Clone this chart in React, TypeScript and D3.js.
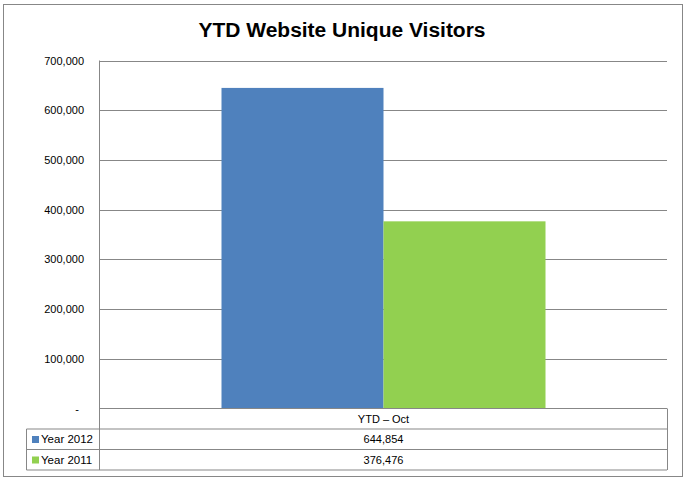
import React from "react";
import * as d3 from "d3";

const categories = ["YTD \u2013 Oct"];
const seriesNames = ["Year 2012", "Year 2011"];
const seriesValues = [644854, 376476];
const seriesColors = ["#4F81BD", "#92D050"];
const yTicks = [0, 100000, 200000, 300000, 400000, 500000, 600000, 700000];
const title = "YTD Website Unique Visitors";

const W = 686;
const H = 481;
const plot = { left: 100, right: 667, top: 60.5, bottom: 408.5 };
const rowH = 20.5;
const tableLeft = 26.5;
const font = "'Liberation Sans', Arial, sans-serif";
const gridColor = "#878787";

export default function App() {
  const y = d3.scaleLinear().domain([0, 700000]).range([plot.bottom, plot.top]);
  const xCat = d3
    .scaleBand<string>()
    .domain(categories)
    .range([plot.left, plot.right])
    .paddingInner(0)
    .paddingOuter(0);
  const bw = xCat.bandwidth();
  // Excel gap width 150%: group width = bw / (n + 1.5)
  const barW = bw / (seriesNames.length + 1.5);
  const groupStart = (xCat(categories[0]) as number) + (bw - barW * seriesNames.length) / 2;
  const xSeries = d3
    .scaleBand<string>()
    .domain(seriesNames)
    .range([groupStart, groupStart + barW * seriesNames.length]);
  const fmt = d3.format(",");
  const catCenter = (xCat(categories[0]) as number) + bw / 2;

  return (
    <svg
      width={W}
      height={H}
      style={{ position: "absolute", left: 0, top: 0, background: "#fff" }}
    >
      <rect x={0} y={0} width={W} height={H} fill="#fff" />
      <rect x={3.5} y={4.5} width={679} height={472} fill="#fff" stroke={gridColor} strokeWidth={1} />
      <text
        x={W / 2 - 1}
        y={37}
        textAnchor="middle"
        fontFamily={font}
        fontWeight="bold"
        fontSize={20}
        textLength={287}
        lengthAdjust="spacingAndGlyphs"
        fill="#000"
      >
        {title}
      </text>
      {yTicks.map((t) => (
        <g key={t}>
          {t > 0 && (
            <line
              x1={plot.left}
              x2={plot.right}
              y1={Math.round(y(t)) + 0.5}
              y2={Math.round(y(t)) + 0.5}
              stroke={gridColor}
              strokeWidth={1}
            />
          )}
          <text
            x={t === 0 ? 77 : 84}
            y={y(t) + 4}
            textAnchor={t === 0 ? "middle" : "end"}
            fontFamily={font}
            fontSize={11}
            fill="#000"
          >
            {t === 0 ? "-" : fmt(t)}
          </text>
        </g>
      ))}
      {seriesNames.map((s, i) => (
        <rect
          key={s}
          x={xSeries(s)}
          y={y(seriesValues[i])}
          width={xSeries.bandwidth()}
          height={plot.bottom - y(seriesValues[i])}
          fill={seriesColors[i]}
        />
      ))}
      {/* vertical axis line */}
      <line x1={plot.left - 0.5} x2={plot.left - 0.5} y1={plot.top} y2={plot.bottom + rowH * 3} stroke={gridColor} />
      {/* table */}
      <line x1={plot.left} x2={plot.right} y1={plot.bottom} y2={plot.bottom} stroke={gridColor} />
      <line x1={plot.right + 0.5} x2={plot.right + 0.5} y1={plot.bottom} y2={plot.bottom + rowH * 3} stroke={gridColor} />
      <line x1={tableLeft} x2={plot.right} y1={plot.bottom + rowH} y2={plot.bottom + rowH} stroke={gridColor} />
      <line x1={tableLeft} x2={plot.right} y1={plot.bottom + rowH * 2} y2={plot.bottom + rowH * 2} stroke={gridColor} />
      <line x1={tableLeft} x2={plot.right} y1={plot.bottom + rowH * 3} y2={plot.bottom + rowH * 3} stroke={gridColor} />
      <line x1={tableLeft} x2={tableLeft} y1={plot.bottom + rowH} y2={plot.bottom + rowH * 3} stroke={gridColor} />
      <text
        x={catCenter}
        y={plot.bottom + rowH / 2 + 4}
        textAnchor="middle"
        fontFamily={font}
        fontSize={11}
        fill="#000"
      >
        {categories[0]}
      </text>
      {seriesNames.map((s, i) => {
        const rowTop = plot.bottom + rowH * (i + 1);
        return (
          <g key={s}>
            <rect x={32} y={rowTop + 7} width={7} height={7} fill={seriesColors[i]} />
            <text x={41} y={rowTop + rowH / 2 + 4} fontFamily={font} fontSize={11.5} fill="#000">
              {s}
            </text>
            <text
              x={catCenter}
              y={rowTop + rowH / 2 + 4}
              textAnchor="middle"
              fontFamily={font}
              fontSize={11}
              fill="#000"
            >
              {fmt(seriesValues[i])}
            </text>
          </g>
        );
      })}
    </svg>
  );
}
